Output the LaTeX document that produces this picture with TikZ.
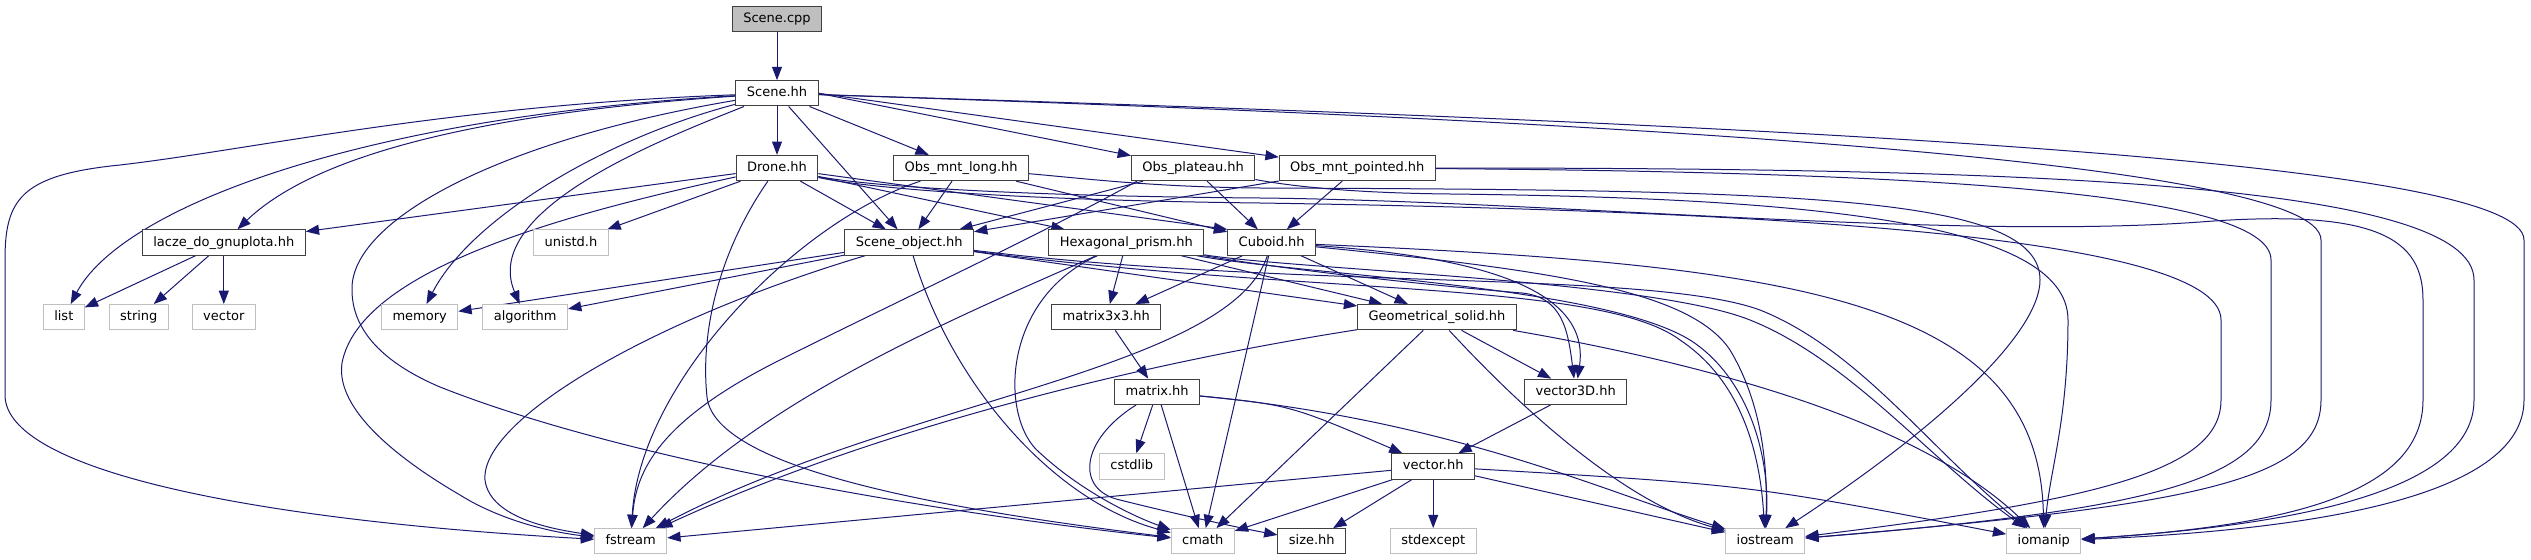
\documentclass[tikz,border=0pt]{standalone}
\usepackage{fontspec}
\setmainfont{DejaVu Sans}
\usetikzlibrary{arrows.meta,calc}
\pgfdeclarelayer{bg}
\pgfsetlayers{bg,main}
\definecolor{edgeblue}{RGB}{25,25,112}
\definecolor{nodeline}{RGB}{64,64,64}
\definecolor{extline}{RGB}{191,191,191}
\definecolor{rootfill}{RGB}{191,191,191}
\begin{document}
\begin{tikzpicture}[x=0.75pt,y=-0.75pt,
  file/.style={draw=nodeline, line width=0.75pt, fill=white, inner xsep=8.2pt, inner ysep=0pt,
    minimum height=19pt, text height=7.2pt, text depth=1.9pt,
    font=\fontsize{9.75}{11}\selectfont, text=black},
  sys/.style={file, draw=extline},
  root/.style={file, fill=rootfill},
  edge/.style={draw=edgeblue, line width=0.75pt, -{Triangle[length=10pt,width=7.5pt]}}]
\useasboundingbox (0,0) rectangle (2531,560);

% ---------- nodes ----------
\node[root] (scpp) at (777,18.7) {Scene.cpp};
\node[file] (shh) at (777,93.3) {Scene.hh};
\node[file] (drone) at (777,168) {Drone.hh};
\node[file] (oml) at (961.2,168) {Obs\_mnt\_long.hh};
\node[file] (opl) at (1193.2,168) {Obs\_plateau.hh};
\node[file] (omp) at (1357.3,168) {Obs\_mnt\_pointed.hh};
\node[file] (lacze) at (223.8,242.5) {lacze\_do\_gnuplota.hh};
\node[sys] (unistd) at (571,242.5) {unistd.h};
\node[file] (sobj) at (909.2,242.5) {Scene\_object.hh};
\node[file] (hex) at (1126.3,242.5) {Hexagonal\_prism.hh};
\node[file] (cub) at (1271.7,242.5) {Cuboid.hh};
\node[sys] (list) at (63.8,317.2) {list};
\node[sys] (string) at (138.8,317.2) {string};
\node[sys] (vector) at (223.8,317.2) {vector};
\node[sys] (memory) at (419.7,317.2) {memory};
\node[sys] (algorithm) at (525.2,317.2) {algorithm};
\node[file] (m33) at (1106.3,317.2) {matrix3x3.hh};
\node[file] (geo) at (1437,317.2) {Geometrical\_solid.hh};
\node[file] (matrix) at (1157.2,391.8) {matrix.hh};
\node[file] (v3d) at (1575.7,391.8) {vector3D.hh};
\node[sys] (cstdlib) at (1131.8,466.4) {cstdlib};
\node[file] (vec) at (1433.2,466.4) {vector.hh};
\node[sys] (fstream) at (630.7,541.3) {fstream};
\node[sys] (cmath) at (1202.7,541.3) {cmath};
\node[file] (size) at (1311.8,541.3) {size.hh};
\node[sys] (stdexcept) at (1433.2,541.3) {stdexcept};
\node[sys] (iostream) at (1765.2,541.3) {iostream};
\node[sys] (iomanip) at (2043.8,541.3) {iomanip};

% ---------- edges ----------
\begin{pgfonlayer}{bg}
% Scene.cpp / Scene.hh
\draw[edge] (scpp) -- (shh);
\draw[edge] (shh) -- (drone);
\draw[edge] (shh) -- (oml);
\draw[edge] (shh.east) -- (opl);
\draw[edge] (shh.east) -- (omp);
\draw[edge] (shh) -- (sobj);
\draw[edge] (shh) .. controls (500,112) and (320,150) .. (lacze);
\draw[edge] (shh) .. controls (350,118) and (120,210) .. (list);
\draw[edge] (shh) .. controls (450,105) and (250,150) .. (120,165) .. controls (20,175) and (5,200) .. (5,260) -- (5,395) .. controls (5,470) and (250,520) .. (fstream);
\draw[edge] (shh) .. controls (500,140) and (350,220) .. (352,290) .. controls (352,340) and (400,370) .. (440,387) .. controls (650,470) and (1000,520) .. (cmath);
\draw[edge] (shh) .. controls (600,140) and (470,220) .. (memory);
\draw[edge] (shh) .. controls (660,140) and (480,210) .. (algorithm);
\draw[edge] (shh) .. controls (1600,120) and (2321,160) .. (2321,240) -- (2321,400) .. controls (2321,480) and (2200,505) .. (iostream);
\draw[edge] (shh) .. controls (1800,125) and (2524,160) .. (2524,240) -- (2524,400) .. controls (2524,500) and (2300,530) .. (iomanip);
% Drone.hh
\draw[edge] (drone) -- (lacze);
\draw[edge] (drone) -- (unistd);
\draw[edge] (drone) -- (sobj);
\draw[edge] (drone) -- (hex);
\draw[edge] (drone) -- (cub.north west);
\draw[edge] (drone) .. controls (560,215) and (360,270) .. (342,363) .. controls (335,410) and (400,460) .. (460,495) .. controls (500,520) and (550,532) .. (fstream);
\draw[edge] (drone) .. controls (720,250) and (700,330) .. (707,397) .. controls (715,470) and (950,510) .. (cmath);
\draw[edge] (drone) .. controls (860,187) and (1000,200) .. (1260,203) .. controls (1700,210) and (2221,230) .. (2221,320) -- (2221,400) .. controls (2221,470) and (2100,500) .. (iostream);
\draw[edge] (drone) .. controls (860,185) and (1000,196) .. (1260,198) .. controls (1550,201) and (1950,240) .. (2200,222) .. controls (2380,208) and (2423,240) .. (2423,300) -- (2423,400) .. controls (2423,490) and (2300,525) .. (iomanip);
% Obs_*
\draw[edge] (oml) -- (sobj);
\draw[edge] (oml) -- (cub);
\draw[edge] (oml) .. controls (800,220) and (640,380) .. (fstream);
\draw[edge] (oml) .. controls (1080,178) and (1150,187) .. (1260,188) .. controls (1800,190) and (2040,195) .. (2040,280) .. controls (2040,330) and (1950,420) .. (iostream);
\draw[edge] (opl) -- (sobj);
\draw[edge] (opl) -- (cub);
\draw[edge] ($(opl.south west)+(6,0)$) .. controls (1040,235) and (900,300) .. (780,360) .. controls (660,420) and (636,470) .. (fstream);
\draw[edge] (opl) .. controls (1290,186) and (1350,193) .. (1450,194) .. controls (1800,198) and (2068,220) .. (2068,320) .. controls (2068,420) and (2050,470) .. (iomanip);
\draw[edge] (omp) -- (sobj);
\draw[edge] (omp) -- (cub);
\draw[edge] (omp) .. controls (1900,172) and (2271,190) .. (2271,260) -- (2271,400) .. controls (2271,480) and (2150,510) .. (iostream);
\draw[edge] (omp) .. controls (2000,168) and (2474,180) .. (2474,280) -- (2474,400) .. controls (2474,490) and (2300,525) .. (iomanip);
% lacze_do_gnuplota.hh
\draw[edge] (lacze) -- (list);
\draw[edge] (lacze) -- (string);
\draw[edge] (lacze) -- (vector);
% Scene_object.hh
\draw[edge] (sobj) -- (memory);
\draw[edge] (sobj) -- (algorithm);
\draw[edge] (sobj) -- (geo);
\draw[edge] (sobj) .. controls (650,320) and (480,420) .. (485,480) .. controls (490,520) and (560,530) .. (fstream);
\draw[edge] (sobj) .. controls (950,380) and (1050,500) .. (cmath);
\draw[edge] (sobj) .. controls (1300,295) and (1600,280) .. (1680,340) .. controls (1740,380) and (1760,450) .. (iostream);
\draw[edge] (sobj) .. controls (1300,290) and (1650,270) .. (1760,310) .. controls (1860,350) and (1930,450) .. (iomanip);
% Hexagonal_prism.hh
\draw[edge] (hex) -- (m33);
\draw[edge] (hex) -- (geo);
\draw[edge] (hex) .. controls (1300,272) and (1460,288) .. (1522,293) .. controls (1562,297) and (1568,330) .. (v3d);
\draw[edge] (hex) .. controls (1000,300) and (1000,420) .. (1040,453) .. controls (1080,490) and (1130,515) .. (cmath);
\draw[edge] (hex) .. controls (950,320) and (760,400) .. (fstream);
\draw[edge] (hex) .. controls (1300,275) and (1600,285) .. (1690,340) .. controls (1745,375) and (1770,450) .. (iostream);
\draw[edge] (hex) .. controls (1300,270) and (1650,280) .. (1750,320) .. controls (1850,360) and (1930,460) .. (iomanip);
% Cuboid.hh
\draw[edge] (cub) -- (m33);
\draw[edge] (cub) -- (geo);
\draw[edge] (cub) .. controls (1450,255) and (1592,280) .. (v3d);
\draw[edge] (cub) .. controls (1230,370) and (900,400) .. (fstream);
\draw[edge] (cub) -- (cmath);
\draw[edge] (cub) .. controls (1550,270) and (1690,290) .. (1730,350) .. controls (1760,400) and (1768,460) .. (iostream);
\draw[edge] (cub) .. controls (1800,265) and (2040,300) .. (iomanip);
% Geometrical_solid.hh
\draw[edge] (geo) -- (v3d);
\draw[edge] (geo) .. controls (1100,370) and (850,440) .. (fstream);
\draw[edge] (geo) -- (cmath);
\draw[edge] (geo) .. controls (1560,450) and (1650,510) .. (iostream);
\draw[edge] (geo) .. controls (1800,380) and (1950,450) .. (iomanip);
% matrix3x3.hh / matrix.hh
\draw[edge] (m33) -- (matrix);
\draw[edge] (matrix) -- (cstdlib);
\draw[edge] (matrix) -- (cmath);
\draw[edge] (matrix) .. controls (1080,440) and (1075,490) .. (1120,500) .. controls (1180,515) and (1240,528) .. (size);
\draw[edge] (matrix) .. controls (1290,405) .. (vec);
\draw[edge] (matrix) .. controls (1450,420) and (1600,490) .. (iostream);
% vector3D.hh / vector.hh
\draw[edge] (v3d) -- (vec);
\draw[edge] (vec) -- (size);
\draw[edge] (vec) -- (stdexcept);
\draw[edge] (vec) -- (cmath);
\draw[edge] (vec) -- (fstream);
\draw[edge] (vec) -- (iostream);
\draw[edge] (vec) .. controls (1750,485) .. (iomanip);
\end{pgfonlayer}
\end{tikzpicture}
\end{document}
